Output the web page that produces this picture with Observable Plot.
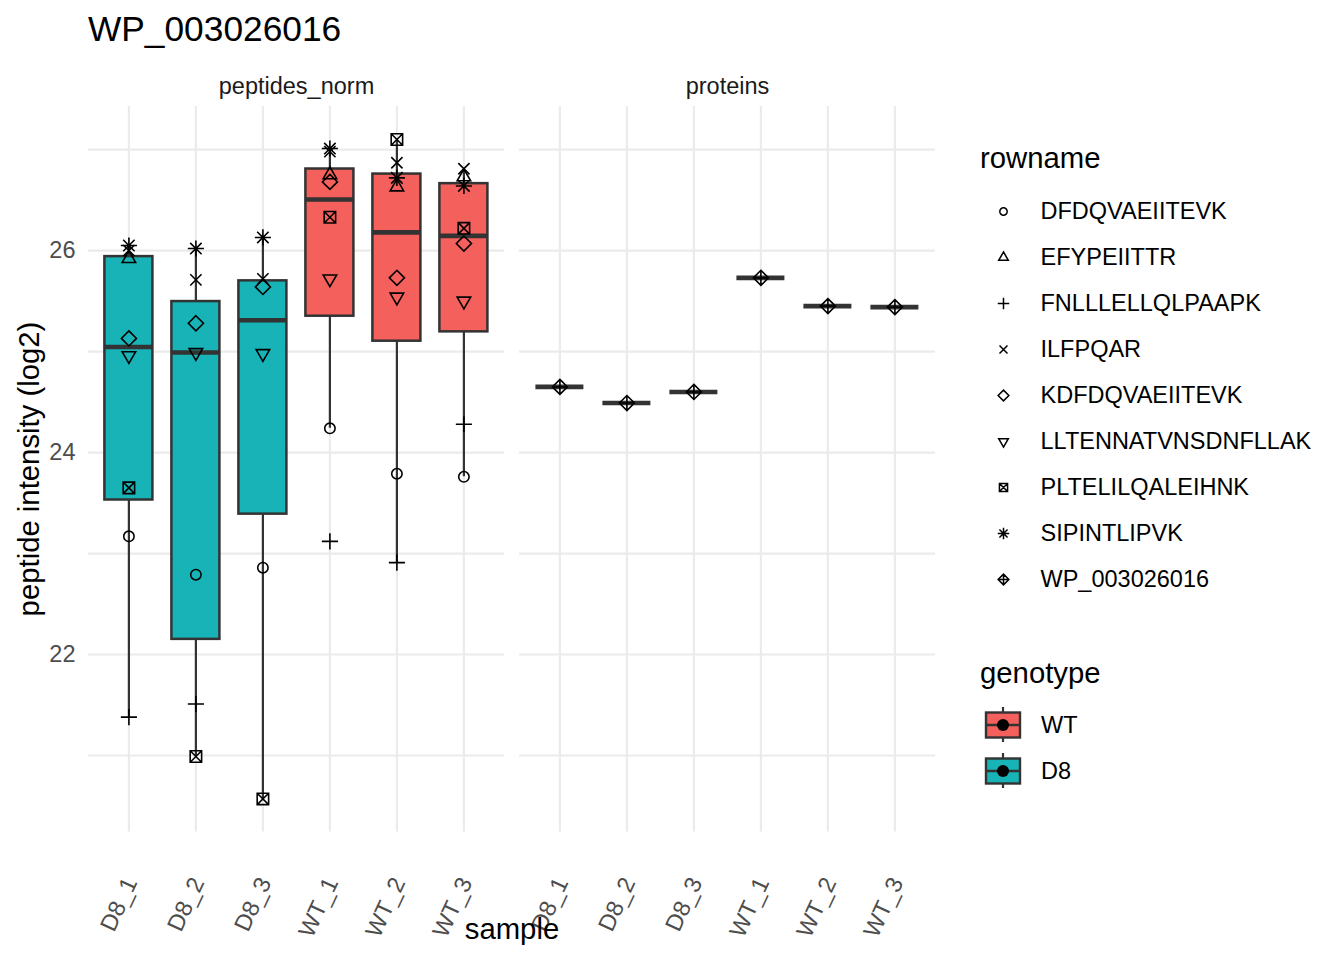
<!DOCTYPE html>
<html>
<head>
<meta charset="utf-8">
<script src="https://cdn.jsdelivr.net/npm/d3@7"></script>
<script src="https://cdn.jsdelivr.net/npm/@observablehq/plot@0.6"></script>
<style>
  body { margin: 0; background: white; }
  #page { position: relative; width: 1344px; height: 960px; background: white; font-family: "Liberation Sans", Arial, Helvetica, sans-serif; overflow: hidden; }
  .abs { position: absolute; white-space: nowrap; line-height: 1; }
</style>
</head>
<body>
<div id="page">
  <div id="chart" class="abs" style="left:0;top:0"></div>
  <div class="abs" style="left:88px;top:11px;font-size:35.3px;color:#000">WP_003026016</div>
  <div class="abs" style="left:29px;top:469px;font-size:29.3px;color:#000;transform:translate(-50%,-50%) rotate(-90deg)">peptide intensity (log2)</div>
  <div class="abs" style="left:512px;top:914px;font-size:29.3px;color:#000;transform:translateX(-50%)">sample</div>
  <div class="abs" style="left:980px;top:143px;font-size:29.3px;color:#000">rowname</div>
  <div id="legend1" class="abs" style="left:980px;top:188px"></div>
  <div class="abs" style="left:980px;top:658px;font-size:29.3px;color:#000">genotype</div>
  <div id="legend2" class="abs" style="left:980px;top:702px"></div>
</div>
<script>
// ---------- data ----------
const samples = ["D8_1", "D8_2", "D8_3", "WT_1", "WT_2", "WT_3"];
const genotypes = ["WT", "D8"];
const panels = ["peptides_norm", "proteins"];
const peptides = ["DFDQVAEIITEVK", "EFYPEIITTR", "FNLLLELLQLPAAPK", "ILFPQAR",
  "KDFDQVAEIITEVK", "LLTENNATVNSDNFLLAK", "PLTELILQALEIHNK", "SIPINTLIPVK"];
const protein = "WP_003026016";

// values per sample (D8_1, D8_2, D8_3, WT_1, WT_2, WT_3); null = missing
const DFDQVAEIITEVK      = [23.17, 22.79, 22.86, 24.24, 23.79, 23.76];
const EFYPEIITTR         = [25.92, null,  null,  26.75, 26.63, 26.73];
const FNLLLELLQLPAAPK    = [21.38, 21.51, null,  23.12, 22.91, 24.28];
const ILFPQAR            = [26.00, 25.71, 25.72, 26.98, 26.87, 26.81];
const KDFDQVAEIITEVK     = [25.13, 25.28, 25.64, 26.68, 25.73, 26.07];
const LLTENNATVNSDNFLLAK = [24.96, 24.99, 24.98, 25.72, 25.54, 25.50];
const PLTELILQALEIHNK    = [23.65, 20.99, 20.57, 26.33, 27.10, 26.22];
const SIPINTLIPVK        = [26.05, 26.02, 26.13, 27.01, 26.72, 26.64];
const proteinValues      = [24.65, 24.49, 24.60, 25.73, 25.45, 25.44];

const yTicks = [22, 24, 26];
const yGrid = [21, 22, 23, 24, 25, 26, 27];
const fillColors = ["#F4605B", "#18B3B7"];

// ---------- build tables ----------
const peptideSeries = [DFDQVAEIITEVK, EFYPEIITTR, FNLLLELLQLPAAPK, ILFPQAR,
  KDFDQVAEIITEVK, LLTENNATVNSDNFLLAK, PLTELILQALEIHNK, SIPINTLIPVK];
const allNames = [...peptides, protein];
const rows = [];
peptides.forEach((p, j) => peptideSeries[j].forEach((v, i) => {
  if (v != null) rows.push({panel: "peptides_norm", sample: samples[i], rowname: p, value: v});
}));
proteinValues.forEach((v, i) => rows.push({panel: "proteins", sample: samples[i], rowname: protein, value: v}));

const stats = d3.flatRollup(rows, g => {
  const vs = g.map(d => d.value).sort(d3.ascending);
  const q1 = d3.quantile(vs, 0.25), med = d3.quantile(vs, 0.5), q3 = d3.quantile(vs, 0.75);
  const iqr = q3 - q1;
  const lo = d3.min(vs.filter(v => v >= q1 - 1.5 * iqr));
  const hi = d3.max(vs.filter(v => v <= q3 + 1.5 * iqr));
  return {q1, med, q3, lo, hi};
}, d => d.panel, d => d.sample).map(([panel, sample, s]) => ({panel, sample, genotype: sample.split("_")[0], ...s}));

const ext = d3.extent(rows, d => d.value);
const padY = (ext[1] - ext[0]) * 0.05;
const yDomain = [ext[0] - padY, ext[1] + padY];

// ---------- ggplot-like shapes ----------
function sym(fn) { return {draw(ctx, size) { fn(ctx, Math.sqrt(size / Math.PI)); }}; }
const plusPath = (c, a) => { c.moveTo(-a, 0); c.lineTo(a, 0); c.moveTo(0, -a); c.lineTo(0, a); };
const timesPath = (c, a) => { c.moveTo(-a, -a); c.lineTo(a, a); c.moveTo(-a, a); c.lineTo(a, -a); };
const diamondPath = (c, a) => { c.moveTo(0, -a); c.lineTo(a, 0); c.lineTo(0, a); c.lineTo(-a, 0); c.closePath(); };
const shapes = [
  sym((c, r) => { c.moveTo(r, 0); c.arc(0, 0, r, 0, 2 * Math.PI); }),
  sym((c, r) => { const R = 1.5 * r; c.moveTo(0, -R); c.lineTo(R * 0.866, R / 2); c.lineTo(-R * 0.866, R / 2); c.closePath(); }),
  sym((c, r) => plusPath(c, 1.55 * r)),
  sym((c, r) => timesPath(c, 1.08 * r)),
  sym((c, r) => diamondPath(c, 1.45 * r)),
  sym((c, r) => { const R = 1.5 * r; c.moveTo(0, R); c.lineTo(R * 0.866, -R / 2); c.lineTo(-R * 0.866, -R / 2); c.closePath(); }),
  sym((c, r) => { const a = 1.1 * r; c.rect(-a, -a, 2 * a, 2 * a); timesPath(c, a); }),
  sym((c, r) => { plusPath(c, 1.55 * r); timesPath(c, 1.1 * r); }),
  sym((c, r) => { const a = 1.45 * r; diamondPath(c, a); plusPath(c, a); })
];

const font = "Liberation Sans, Arial, Helvetica, sans-serif";

// ---------- main chart ----------
const chart = Plot.plot({
  width: 1344,
  height: 960,
  marginLeft: 87.6,
  marginRight: 407.7,
  marginTop: 106,
  marginBottom: 128.6,
  style: {fontFamily: font, fontSize: "23.5px", color: "#4D4D4D", background: "white"},
  fx: {domain: panels, paddingInner: 0.034, paddingOuter: 0, label: null, axis: null},
  x: {domain: samples, paddingInner: 0.28, paddingOuter: 0.24, label: null, axis: null},
  y: {domain: yDomain, label: null, axis: null},
  color: {domain: genotypes, range: fillColors},
  symbol: {domain: allNames, range: shapes},
  marks: [
    Plot.gridX({stroke: "#EBEBEB", strokeOpacity: 1, strokeWidth: 2.2}),
    Plot.gridY(yGrid, {stroke: "#EBEBEB", strokeOpacity: 1, strokeWidth: 2.2}),
    Plot.axisY(yTicks, {tickSize: 0, tickPadding: 13, tickFormat: "d", fontSize: 23.5, fill: "#4D4D4D", label: null}),
    Plot.axisX({tickSize: 0, tickPadding: 47, tickRotate: -65, fontSize: 23.5, fill: "#4D4D4D", label: null, dx: 2}),
    Plot.axisFx({anchor: "top", tickSize: 0, tickPadding: 13, fontSize: 23.5, fill: "#1A1A1A", label: null}),
    Plot.ruleX(stats, {fx: "panel", x: "sample", y1: "lo", y2: "hi", stroke: "#333333", strokeWidth: 2.2}),
    Plot.barY(stats, {fx: "panel", x: "sample", y1: "q1", y2: "q3", fill: "genotype", stroke: "#333333", strokeWidth: 2.5}),
    Plot.tickY(stats, {fx: "panel", x: "sample", y: "med", stroke: "#333333", strokeWidth: 4.6}),
    Plot.dot(rows, {fx: "panel", x: "sample", y: "value", symbol: "rowname", r: 5.2, stroke: "black", fill: "none", strokeWidth: 1.6})
  ]
});
document.getElementById("chart").appendChild(chart);

// ---------- rowname legend ----------
const leg1 = Plot.plot({
  width: 360,
  height: 414,
  margin: 0,
  style: {fontFamily: font, fontSize: "23.5px", color: "#000", background: "transparent"},
  x: {domain: [0, 1], axis: null},
  y: {type: "point", domain: allNames, padding: 0.5, axis: null},
  symbol: {domain: allNames, range: shapes},
  marks: [
    Plot.dot(allNames, {y: d => d, symbol: d => d, frameAnchor: "left", dx: 23, r: 3.7, stroke: "black", fill: "none", strokeWidth: 1.5}),
    Plot.text(allNames, {y: d => d, text: d => d, frameAnchor: "left", dx: 60, textAnchor: "start", fontSize: 23.5, fill: "black"})
  ]
});
document.getElementById("legend1").appendChild(leg1);

// ---------- genotype legend (box keys) ----------
const ns = "http://www.w3.org/2000/svg";
const leg2 = document.createElementNS(ns, "svg");
leg2.setAttribute("width", 200);
leg2.setAttribute("height", 92);
genotypes.forEach((g, i) => {
  const cy = 23 + 46 * i;
  leg2.insertAdjacentHTML("beforeend",
    `<line x1="23" x2="23" y1="${cy - 18}" y2="${cy + 17}" stroke="#333333" stroke-width="2.2"/>` +
    `<rect x="6" y="${cy - 12.5}" width="34" height="25" fill="${fillColors[i]}" stroke="#333333" stroke-width="2.4"/>` +
    `<line x1="6" x2="40" y1="${cy}" y2="${cy}" stroke="#333333" stroke-width="2.4"/>` +
    `<circle cx="23" cy="${cy}" r="6" fill="black"/>` +
    `<text x="61" y="${cy}" dy="0.36em" font-size="23.5" font-family="${font}" fill="black">${g}</text>`);
});
document.getElementById("legend2").appendChild(leg2);
</script>
</body>
</html>
